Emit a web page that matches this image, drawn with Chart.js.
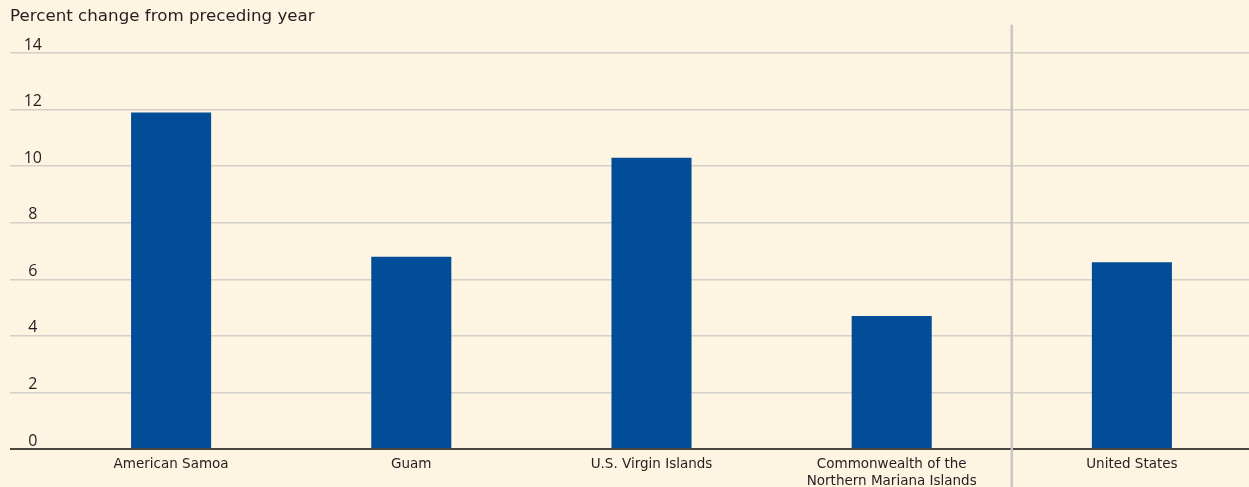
<!DOCTYPE html>
<html lang="en">
<head>
    <meta charset="UTF-8">
    <title>Percent change from preceding year</title>
    <script src="https://cdn.jsdelivr.net/npm/chart.js@4.4.1/dist/chart.umd.min.js"></script>
    <style>
        html, body { margin: 0; padding: 0; background: #fdf4e1; overflow: hidden; }
        #chart { display: block; background: #fdf4e1; }
    </style>
</head>
<body>
    <!-- a few px wider than the window: the plot runs off the right edge like the original -->
    <canvas id="chart" width="1252" height="487"></canvas>

    <script>
        // data
        const categories = [
            'American Samoa',
            'Guam',
            'U.S. Virgin Islands',
            ['Commonwealth of the', 'Northern Mariana Islands'],
            'United States'
        ];
        const percentChange = [11.9, 6.8, 10.3, 4.7, 6.6];
        const yMax = 14;
        const yStep = 2;

        const textColor = '#231f20';
        const gridColor = '#d3d0ca';
        const zeroColor = '#4a453f';
        const labelFont = "'DejaVu Sans', sans-serif";
        const tickFont = "'Open Sans', sans-serif";

        // vertical rule between the territories and the US
        const separator = {
            id: 'separator',
            beforeDatasetsDraw(chart) {
                const x = chart.scales.x;
                const px = (x.getPixelForValue(3) + x.getPixelForValue(4)) / 2;
                const ctx = chart.ctx;
                ctx.save();
                ctx.strokeStyle = '#c9c7c2';
                ctx.lineWidth = 2.5;
                ctx.beginPath();
                ctx.moveTo(px, chart.chartArea.top);
                ctx.lineTo(px, chart.height);
                ctx.stroke();
                ctx.restore();
            }
        };

        new Chart(document.getElementById('chart'), {
            type: 'bar',
            data: {
                labels: categories,
                datasets: [{
                    data: percentChange,
                    backgroundColor: '#014d97',
                    borderWidth: 0,
                    barPercentage: 1,
                    categoryPercentage: 1 / 3
                }]
            },
            options: {
                responsive: false,
                devicePixelRatio: 1,
                animation: false,
                layout: { padding: { left: 10, right: 0, top: 0, bottom: 0 } },
                plugins: {
                    legend: { display: false },
                    tooltip: { enabled: false },
                    title: {
                        display: true,
                        text: 'Percent change from preceding year',
                        align: 'start',
                        color: textColor,
                        font: { family: labelFont, size: 16.7, weight: 'normal', lineHeight: 1 },
                        padding: { top: 8, bottom: 0 }
                    }
                },
                scales: {
                    x: {
                        grid: { display: false },
                        border: { display: false },
                        ticks: {
                            color: textColor,
                            font: { family: labelFont, size: 13.5, lineHeight: 1.25 },
                            padding: -1,
                            maxRotation: 0,
                            autoSkip: false
                        },
                        afterFit: s => { s.height = 38; }
                    },
                    y: {
                        min: 0,
                        max: yMax + 1,
                        afterBuildTicks: s => { s.ticks = s.ticks.filter(t => t.value <= yMax); },
                        border: { display: false },
                        grid: {
                            color: c => c.tick && c.tick.value === 0 ? zeroColor : gridColor,
                            tickColor: c => c.tick && c.tick.value === 0 ? zeroColor : gridColor,
                            lineWidth: c => c.tick && c.tick.value === 0 ? 2 : 1.5,
                            tickLength: 41
                        },
                        ticks: {
                            stepSize: yStep,
                            color: textColor,
                            font: { family: tickFont, size: 16 },
                            crossAlign: 'center',
                            padding: -32,
                            labelOffset: -8
                        },
                        afterFit: s => { s.width = 41; }
                    }
                }
            },
            plugins: [separator]
        });
    </script>
</body>
</html>
